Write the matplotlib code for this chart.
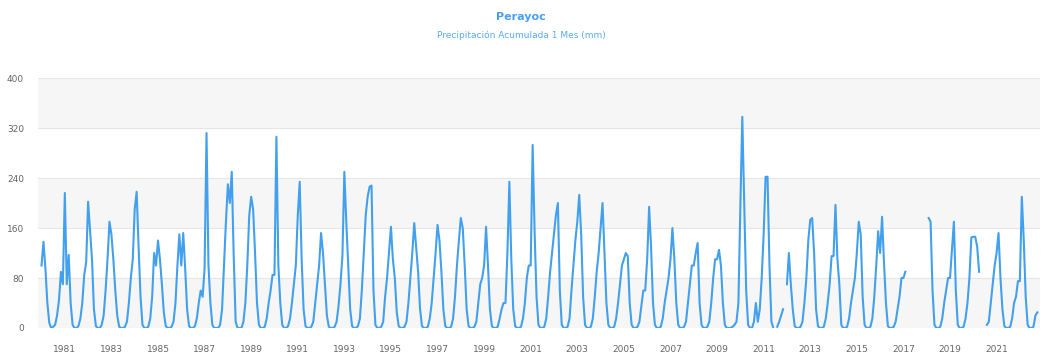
import numpy as np
import matplotlib
matplotlib.use("Agg")
import matplotlib.pyplot as plt

nan = np.nan

# monthly precipitation (mm), Jan..Dec per row
p1980s = [
    100, 138, 95, 40, 8, 0, 2, 5, 20, 45, 90, 70,
    216, 70, 117, 40, 5, 0, 0, 3, 15, 40, 85, 105,
    202, 155, 110, 30, 3, 0, 0, 5, 20, 60, 110, 170,
    150, 110, 60, 20, 2, 0, 0, 2, 10, 40, 80, 110,
    190, 218, 130, 50, 5, 0, 0, 2, 15, 50, 120, 100,
    140, 110, 70, 25, 3, 0, 0, 2, 10, 40, 100, 150,
    100, 152, 95, 30, 3, 0, 0, 3, 15, 40, 60, 50,
    95, 312, 100, 40, 5, 0, 0, 0, 5, 30, 100, 170,
    230, 200, 250, 115, 10, 0, 0, 0, 10, 40, 100, 180,
    210, 190, 120, 40, 5, 0, 0, 2, 15, 40, 60, 85,
]
p1990s = [
    85, 306, 100, 40, 5, 0, 0, 3, 15, 40, 70, 100,
    180, 234, 110, 30, 3, 0, 0, 2, 10, 40, 70, 100,
    152, 120, 70, 20, 2, 0, 0, 2, 10, 35, 70, 115,
    250, 170, 100, 30, 3, 0, 0, 3, 15, 60, 120, 180,
    210, 226, 228, 60, 5, 0, 0, 2, 10, 50, 80, 120,
    162, 110, 80, 25, 3, 0, 0, 2, 10, 40, 80, 120,
    168, 130, 90, 30, 3, 0, 0, 2, 15, 40, 80, 120,
    165, 140, 90, 30, 3, 0, 0, 2, 15, 50, 100, 140,
    176, 160, 100, 30, 3, 0, 0, 2, 10, 40, 70, 80,
    100, 162, 100, 30, 3, 0, 0, 2, 15, 30, 40, 40,
]
p2000s = [
    120, 234, 110, 30, 3, 0, 0, 2, 15, 40, 80, 100,
    100, 293, 155, 50, 5, 0, 0, 2, 15, 50, 90, 120,
    150, 181, 200, 60, 5, 0, 0, 2, 15, 60, 100, 140,
    170, 213, 150, 50, 5, 0, 0, 2, 15, 50, 90, 120,
    160, 200, 120, 40, 5, 0, 0, 2, 15, 40, 70, 100,
    110, 120, 115, 40, 5, 0, 0, 2, 10, 35, 60, 60,
    110, 194, 130, 40, 5, 0, 0, 2, 15, 40, 60, 80,
    110, 160, 110, 40, 5, 0, 0, 2, 10, 40, 70, 100,
    100, 120, 136, 40, 5, 0, 0, 2, 10, 40, 80, 110,
    110, 125, 100, 40, 5, 0, 0, 0, 2, 5, 10, 40,
]
p2010s = [
    194, 338, 200, 60, 5, 0, 0, 10, 40, 10, 30, 80,
    150, 242, 242, 100, 10, 0, nan, 2, 10, 20, 30, nan,
    70, 120, 70, 30, 3, 0, 0, 2, 10, 40, 80, 140,
    173, 176, 120, 30, 3, 0, 0, 2, 15, 40, 70, 115,
    115, 197, 110, 70, 5, 0, 0, 2, 15, 40, 60, 80,
    120, 170, 150, 50, 5, 0, 0, 2, 15, 50, 100, 155,
    120, 178, 105, 40, 3, 0, 0, 2, 10, 30, 50, 80,
    80, 90, nan, nan, nan, nan, nan, nan, nan, nan, nan, nan,
    nan, 176, 170, 60, 5, 0, 0, 2, 15, 40, 60, 80,
    80, 125, 170, 60, 5, 0, 0, 2, 15, 40, 80, 145,
]
p2020s = [
    146, 146, 130, 90, nan, nan, nan, 5, 10, 40, 70, 100,
    120, 152, 80, 30, 3, 0, 0, 2, 15, 40, 50, 75,
    75, 210, 140, 50, 5, 0, 0, 2, 20, 25,
]

year_ticks = list(range(1981, 2022, 2))

values = np.array(p1980s + p1990s + p2000s + p2010s + p2020s, dtype=float)
t = 1980 + np.arange(len(values)) / 12.0

fig = plt.figure(figsize=(10.42, 3.58), dpi=100)
ax = fig.add_axes([0.0365, 0.0838, 0.9615, 0.6982])

# alternating bands like the original
for lo, hi in [(0, 80), (160, 240), (320, 400)]:
    ax.axhspan(lo, hi, color="#f6f6f6", zorder=0, lw=0)
for yv in range(0, 401, 80):
    ax.axhline(yv, color="#e6e6e6", lw=0.8, zorder=1)

ax.plot(t, values, color="#42a0ec", lw=1.5, zorder=3)

ax.set_xlim(1979.85, 2022.86)
ax.set_ylim(0, 400)
ax.set_yticks(range(0, 401, 80))
ax.set_xticks(year_ticks)
ax.set_xticklabels([str(y) for y in year_ticks])
ax.tick_params(axis="both", length=0, labelsize=6.5, labelcolor="#666666")
ax.tick_params(axis="y", pad=10)
ax.tick_params(axis="x", pad=12)
for s in ax.spines.values():
    s.set_visible(False)

fig.text(0.5, 0.952, "Perayoc", ha="center", va="center",
         fontsize=8, fontweight="bold", color="#4a9ff5")
fig.text(0.5, 0.902, "Precipitación Acumulada 1 Mes (mm)", ha="center",
         va="center", fontsize=6.5, color="#5aaaf5")

fig.savefig("out.png", dpi=100)
